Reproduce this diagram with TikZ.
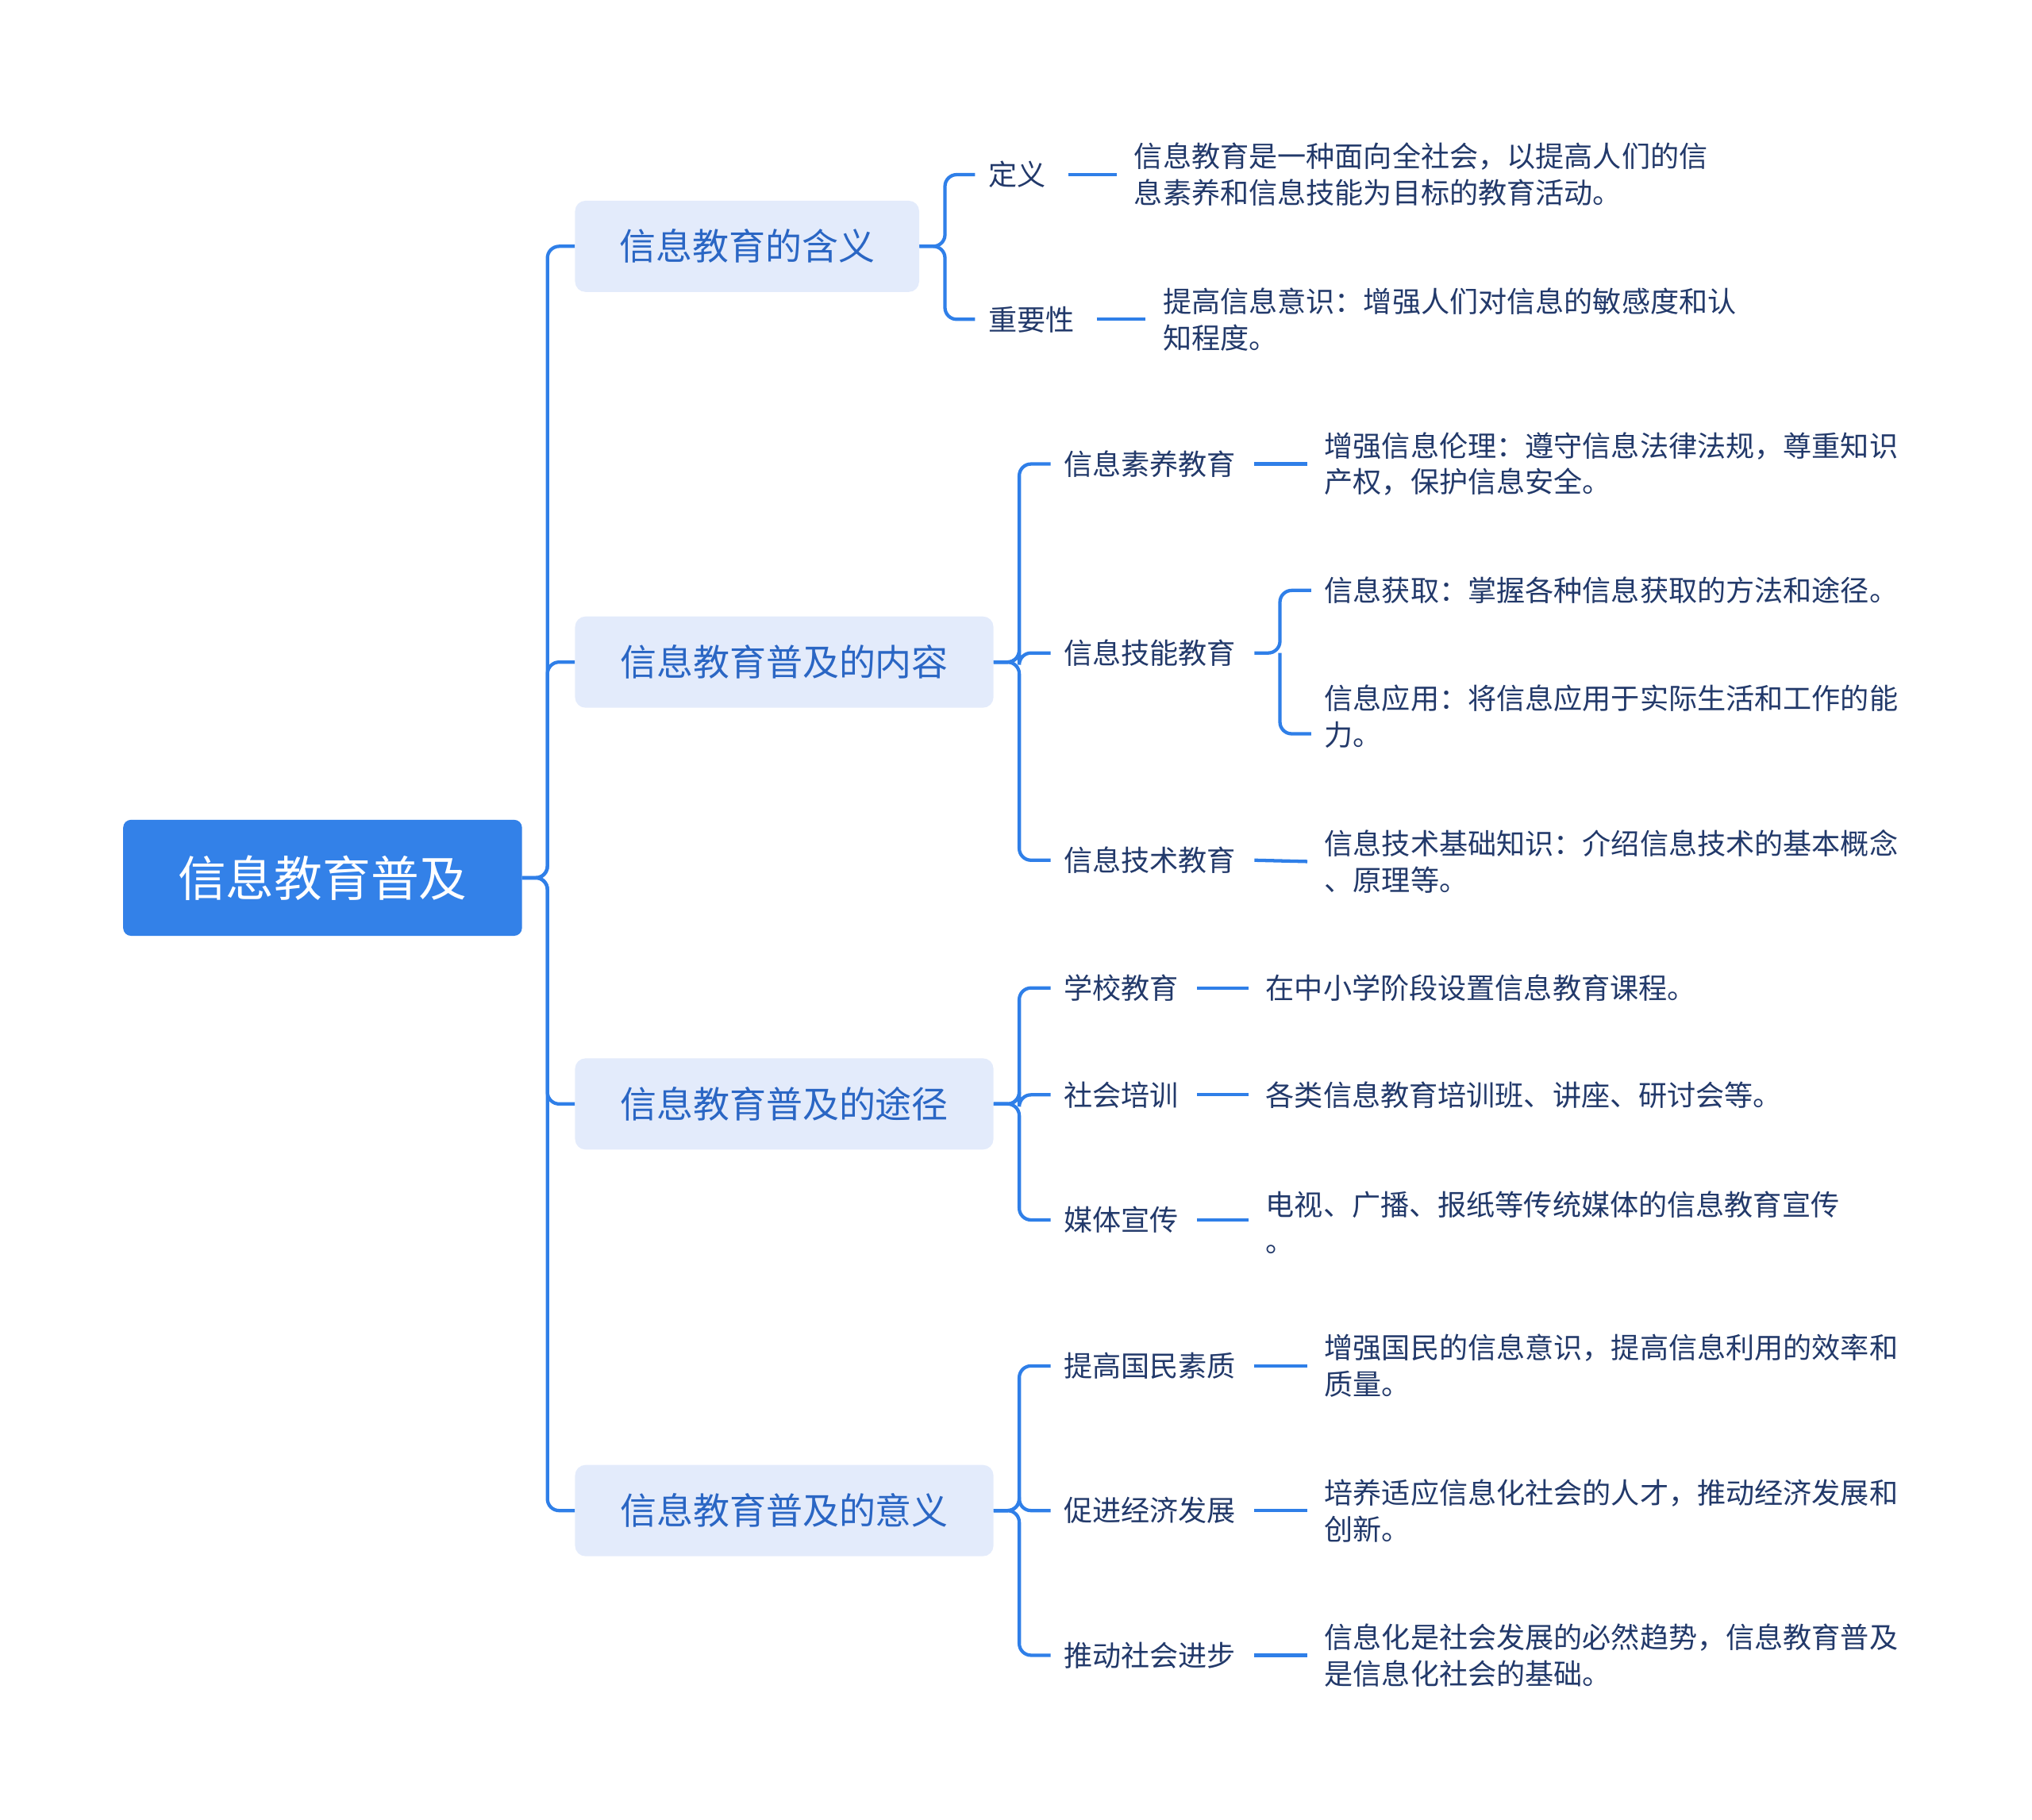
\documentclass[tikz,border=0pt]{standalone}
\usepackage{fontspec}
\setmainfont{Noto Sans CJK SC}
\definecolor{lnblue}{HTML}{2F7FE8}
\definecolor{rootblue}{HTML}{3381E8}
\definecolor{lvlfill}{HTML}{E3EBFB}
\definecolor{lvltext}{HTML}{2A66C4}
\definecolor{leaftext}{HTML}{22396A}
\begin{document}
\begin{tikzpicture}[x=1pt,y=-1pt,
  rootbox/.style={fill=rootblue,rounded corners=6,text=white,minimum width=306,minimum height=89,font=\fontsize{37}{40}\selectfont},
  lvlbox/.style={fill=lvlfill,rounded corners=8,text=lvltext,minimum height=70,anchor=west,font=\fontsize{28}{32}\selectfont},
  sub/.style={anchor=west,text=leaftext,inner xsep=10,inner ysep=2,font=\fontsize{22}{28}\selectfont},
  leaf/.style={anchor=west,text=leaftext,inner xsep=13,inner ysep=2,align=left,font=\fontsize{22}{28}\selectfont},
  con/.style={draw=lnblue,line width=2.6,rounded corners=9}]
\useasboundingbox (0,0) rectangle (1559,1396);
\node[rootbox] (root) at (247.5,673.5) {信息教育普及};
\node[lvlbox,minimum width=264] (a) at (441,189) {信息教育的含义};
\node[lvlbox,minimum width=321] (b) at (441,508) {信息教育普及的内容};
\node[lvlbox,minimum width=321] (c) at (441,847) {信息教育普及的途径};
\node[lvlbox,minimum width=321] (d) at (441,1159) {信息教育普及的意义};
\foreach \n in {a,b,c,d}{\draw[con] (root.east) -- (420,673.5) |- (\n.west);}
% group a
\node[sub] (a1) at (748,134) {定义};
\node[sub] (a2) at (748,245) {重要性};
\node[leaf] (a1l) at (857,134) {信息教育是一种面向全社会，以提高人们的信\\息素养和信息技能为目标的教育活动。};
\node[leaf] (a2l) at (879,245) {提高信息意识：增强人们对信息的敏感度和认\\知程度。};
\foreach \n in {a1,a2}{\draw[con] (a.east) -- (725,189) |- (\n.west);}
\draw[con] (a1.east)++(7,0) -- (a1l.west);
\draw[con] (a2.east)++(7,0) -- (a2l.west);
% group b
\node[sub] (b1) at (806,356) {信息素养教育};
\node[sub] (b2) at (806,501) {信息技能教育};
\node[sub] (b3) at (806,660) {信息技术教育};
\foreach \n in {b1,b2,b3}{\draw[con] (b.east) -- (782,508) |- (\n.west);}
\node[leaf] (b1l) at (1003,356) {增强信息伦理：遵守信息法律法规，尊重知识\\产权，保护信息安全。};
\node[leaf] (b2a) at (1003,453) {信息获取：掌握各种信息获取的方法和途径。};
\node[leaf] (b2b) at (1003,550) {信息应用：将信息应用于实际生活和工作的能\\力。};
\node[leaf] (b3l) at (1003,661) {信息技术基础知识：介绍信息技术的基本概念\\、原理等。};
\draw[con] (b1.east)++(4,0) -- (b1l.west);
\draw[con] (b3.east)++(4,0) -- (b3l.west);
\draw[con] (b2.east)++(4,0) -- (982,501) |- ([xshift=3]b2a.west);
\draw[con] (982,501) |- ([xshift=3,yshift=-13]b2b.west);
% group c
\node[sub] (c1) at (806,758) {学校教育};
\node[sub] (c2) at (806,840) {社会培训};
\node[sub] (c3) at (806,936) {媒体宣传};
\foreach \n in {c1,c2,c3}{\draw[con] (c.east) -- (782,847) |- (\n.west);}
\node[leaf] (c1l) at (958,758) {在中小学阶段设置信息教育课程。};
\node[leaf] (c2l) at (958,840) {各类信息教育培训班、讲座、研讨会等。};
\node[leaf] (c3l) at (958,938) {电视、广播、报纸等传统媒体的信息教育宣传\\。};
\draw[con] (c1.east)++(4,0) -- (c1l.west);
\draw[con] (c2.east)++(4,0) -- (c2l.west);
\draw[con] (c3.east)++(4,0) -- (c3l.west |- c3.east);
% group d
\node[sub] (d1) at (806,1048) {提高国民素质};
\node[sub] (d2) at (806,1159) {促进经济发展};
\node[sub] (d3) at (806,1270) {推动社会进步};
\foreach \n in {d1,d2,d3}{\draw[con] (d.east) -- (782,1159) |- (\n.west);}
\node[leaf] (d1l) at (1003,1048) {增强国民的信息意识，提高信息利用的效率和\\质量。};
\node[leaf] (d2l) at (1003,1159) {培养适应信息化社会的人才，推动经济发展和\\创新。};
\node[leaf] (d3l) at (1003,1270) {信息化是社会发展的必然趋势，信息教育普及\\是信息化社会的基础。};
\draw[con] (d1.east)++(4,0) -- (d1l.west);
\draw[con] (d2.east)++(4,0) -- (d2l.west);
\draw[con] (d3.east)++(4,0) -- (d3l.west);
\end{tikzpicture}
\end{document}
